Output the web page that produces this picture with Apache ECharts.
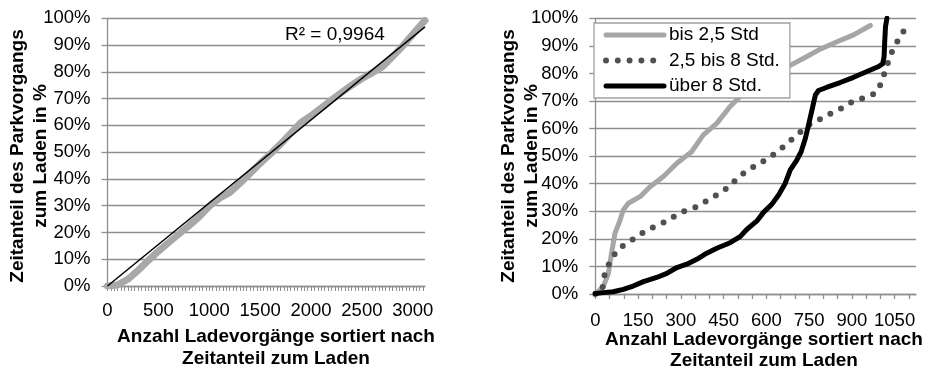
<!DOCTYPE html>
<html>
<head>
<meta charset="utf-8">
<script src="https://cdn.jsdelivr.net/npm/echarts@6/dist/echarts.min.js"></script>
<style>
  html, body { margin: 0; padding: 0; background: #fff; }
  #chart { width: 931px; height: 370px; }
</style>
</head>
<body>
<div id="chart"></div>
<script>
// Left panel: every charging event, sorted by the share of parking time spent charging
const allEvents = [0, 100, 200, 300, 400, 500, 600, 700, 800, 900, 1000, 1100, 1200, 1300, 1400, 1500,
  1600, 1700, 1800, 1900, 2000, 2100, 2200, 2300, 2400, 2500, 2600, 2700, 2800, 2900, 3000, 3100, 3120];
const allShare = [0, 0.4, 2.5, 5.8, 9.5, 13, 16.2, 19.4, 22.5, 25.8, 29.8, 32.8, 34.9, 38.3, 42, 45.8,
  49.3, 53, 57, 61, 63.6, 66.5, 69.5, 72.3, 75, 77.5, 79.6, 81.8, 85.6, 89.6, 94, 98.4, 99.2];

// Linear trend (R² = 0,9964) at both ends of the event range
const trendEvents = [0, 3120];
const trendShare = [0, 96.8];
const rSquaredText = 'R² = 0,9964';

// Right panel: the same curve split by parking duration
const seriesNames = ['bis 2,5 Std', '2,5 bis 8 Std.', 'über 8 Std.'];
const shortEvents = [0, 5, 28, 46, 57, 69, 87, 98, 116, 157, 192, 239, 286, 338, 379, 426, 473, 508,
  550, 600, 640, 672, 731, 789, 848, 906, 965];
const shortShare = [0, 0.3, 2.7, 7.5, 14.8, 22, 26.8, 30.5, 32.9, 35.3, 38.9, 42.6, 47.4, 51.6, 57.7, 61.9, 68, 71.6,
  75, 78.5, 80.8, 82.3, 85.5, 88.8, 91.5, 94, 97.4];
const midEvents = [0, 20, 28, 34, 54, 75, 108, 142, 177, 201, 239, 276, 313, 350, 391, 432, 467, 496, 529,
  564, 596, 631, 664, 696, 728, 760, 795, 833, 869, 906, 945, 982, 995, 1008, 1023, 1037, 1056, 1076, 1105];
const midShare = [0, 0.5, 3.3, 8.1, 12, 15.7, 18.4, 20.4, 23, 24.1, 25.9, 28.1, 30.1, 31.4, 33.8, 36.3, 38.7, 41.7, 44.6,
  46.6, 48.6, 51, 53.8, 56.7, 59.5, 62.2, 63.7, 65.9, 67.6, 70, 71.2, 72.8, 74.5, 78.2, 82.7, 87.1, 90.9, 94.8, 97.2];
const longEvents = [0, 28, 63, 98, 133, 169, 215, 251, 286, 321, 356, 391, 426, 473, 508, 532, 567, 590, 619,
  643, 666, 684, 707, 722, 737, 748, 760, 772, 783, 813, 859, 906, 953, 994, 1008, 1013, 1015, 1018, 1023];
const longShare = [0.2, 0.5, 0.8, 1.7, 2.9, 4.5, 6, 7.5, 9.6, 10.8, 12.6, 14.8, 16.6, 18.6, 20.8, 23.5, 26.5, 29.6, 32.5,
  35.9, 40.1, 45, 48.6, 51.6, 56.5, 61.3, 66.7, 72.2, 73.8, 75, 76.7, 78.6, 80.7, 82.5, 83.5, 86, 91, 97, 100];

// Axis extents and tick steps
const leftMaxEvents = 3120;
const leftLabelStep = 500;
const rightMaxEvents = 1125;
const rightTickStep = 50;
const rightLabelStep = 150;

const pairs = (xs, ys) => xs.map((x, i) => [x, ys[i]]);

const FONT = '"Liberation Sans", Arial, sans-serif';
const GRID_GRAY = '#8e8e8e';
const isStep = (v, step) => {
  const r = Math.round(v);
  return Math.abs(v - r) < 1e-6 && r % step === 0;
};

const yAxisBase = (gridIndex) => ({
  type: 'value', gridIndex, min: 0, max: 100, interval: 10,
  axisLine: { show: true, lineStyle: { color: GRID_GRAY, width: 1.3 } },
  axisTick: { show: true, length: 6, lineStyle: { color: GRID_GRAY, width: 1.3 } },
  splitLine: { show: true, lineStyle: { color: GRID_GRAY, width: 1.3 } },
  axisLabel: { formatter: '{value}%', fontSize: 18.5, color: '#000', fontFamily: FONT, margin: 17 }
});

const chart = echarts.init(document.getElementById('chart'), null, { renderer: 'canvas' });
chart.setOption({
  animation: false,
  backgroundColor: '#fff',
  textStyle: { fontFamily: FONT },
  grid: [
    { left: 107.5, right: 506, top: 18.3, bottom: 84 },
    { left: 595.3, right: 15, top: 18.3, bottom: 76 }
  ],
  xAxis: [
    {
      type: 'value', gridIndex: 0, min: 0, max: leftMaxEvents, interval: 100 / 3,
      axisLine: { show: true, lineStyle: { color: GRID_GRAY, width: 1.3 } },
      axisTick: { show: true, length: 5, lineStyle: { color: GRID_GRAY, width: 1 } },
      splitLine: { show: false },
      axisLabel: {
        fontSize: 18.5, color: '#000', fontFamily: FONT, margin: 15, showMaxLabel: false,
        formatter: v => (isStep(v, leftLabelStep) ? String(Math.round(v)) : '')
      }
    },
    {
      type: 'value', gridIndex: 1, min: 0, max: rightMaxEvents, interval: rightTickStep,
      axisLine: { show: true, lineStyle: { color: GRID_GRAY, width: 1.3 } },
      axisTick: { show: true, length: 5, lineStyle: { color: GRID_GRAY, width: 1.3 } },
      splitLine: { show: false },
      axisLabel: {
        fontSize: 18.5, color: '#000', fontFamily: FONT, margin: 17, showMaxLabel: false,
        formatter: v => (isStep(v, rightLabelStep) ? String(Math.round(v)) : '')
      }
    }
  ],
  yAxis: [yAxisBase(0), yAxisBase(1)],
  legend: {
    orient: 'vertical', left: 594, top: 23,
    padding: [2, 10, 2, 9], itemGap: 5.5, itemWidth: 58, itemHeight: 20,
    backgroundColor: '#fff', borderColor: '#a0a0a0', borderWidth: 1.3,
    textStyle: { fontSize: 19, color: '#000', fontFamily: FONT, lineHeight: 20 },
    lineStyle: { width: 'inherit', type: 'inherit', cap: 'inherit' },
    itemStyle: { color: 'transparent', borderWidth: 0, opacity: 0 },
    data: seriesNames
  },
  series: [
    {
      type: 'line', xAxisIndex: 0, yAxisIndex: 0, showSymbol: false, symbol: 'none',
      data: pairs(allEvents, allShare),
      lineStyle: { color: '#a8a8a8', width: 7, join: 'round', cap: 'round' }
    },
    {
      type: 'line', xAxisIndex: 0, yAxisIndex: 0, showSymbol: false, symbol: 'none',
      data: pairs(trendEvents, trendShare),
      lineStyle: { color: '#000', width: 1.5 }
    },
    {
      name: seriesNames[0], type: 'line', xAxisIndex: 1, yAxisIndex: 1, symbol: 'none',
      data: pairs(shortEvents, shortShare),
      itemStyle: { color: '#a6a6a6' },
      lineStyle: { color: '#a6a6a6', width: 5, join: 'round', cap: 'round' }
    },
    {
      name: seriesNames[1], type: 'line', xAxisIndex: 1, yAxisIndex: 1, symbol: 'none',
      data: pairs(midEvents, midShare),
      itemStyle: { color: '#505050' },
      lineStyle: { color: '#505050', width: 6, type: [0, 11.8], cap: 'round', join: 'round' }
    },
    {
      name: seriesNames[2], type: 'line', xAxisIndex: 1, yAxisIndex: 1, symbol: 'none',
      data: pairs(longEvents, longShare),
      itemStyle: { color: '#000' },
      lineStyle: { color: '#000', width: 5, join: 'round', cap: 'round' }
    }
  ],
  graphic: [
    {
      type: 'text', x: 285, y: 35,
      style: { text: rSquaredText, font: '19px ' + FONT, fill: '#000', textVerticalAlign: 'middle' }
    },
    {
      type: 'text', x: 276, y: 347.5,
      style: {
        text: 'Anzahl Ladevorgänge sortiert nach\nZeitanteil zum Laden',
        font: 'bold 19px ' + FONT, fill: '#000', lineHeight: 22,
        textAlign: 'center', textVerticalAlign: 'middle'
      }
    },
    {
      type: 'text', x: 764, y: 350,
      style: {
        text: 'Anzahl Ladevorgänge sortiert nach\nZeitanteil zum Laden',
        font: 'bold 19px ' + FONT, fill: '#000', lineHeight: 21,
        textAlign: 'center', textVerticalAlign: 'middle'
      }
    },
    {
      type: 'text', x: 29, y: 156, rotation: Math.PI / 2,
      style: {
        text: 'Zeitanteil des Parkvorgangs\nzum Laden in %',
        font: 'bold 19px ' + FONT, fill: '#000', lineHeight: 23.3,
        textAlign: 'center', textVerticalAlign: 'middle'
      }
    },
    {
      type: 'text', x: 520.6, y: 156, rotation: Math.PI / 2,
      style: {
        text: 'Zeitanteil des Parkvorgangs\nzum Laden in %',
        font: 'bold 19px ' + FONT, fill: '#000', lineHeight: 23.3,
        textAlign: 'center', textVerticalAlign: 'middle'
      }
    }
  ]
});
</script>
</body>
</html>
